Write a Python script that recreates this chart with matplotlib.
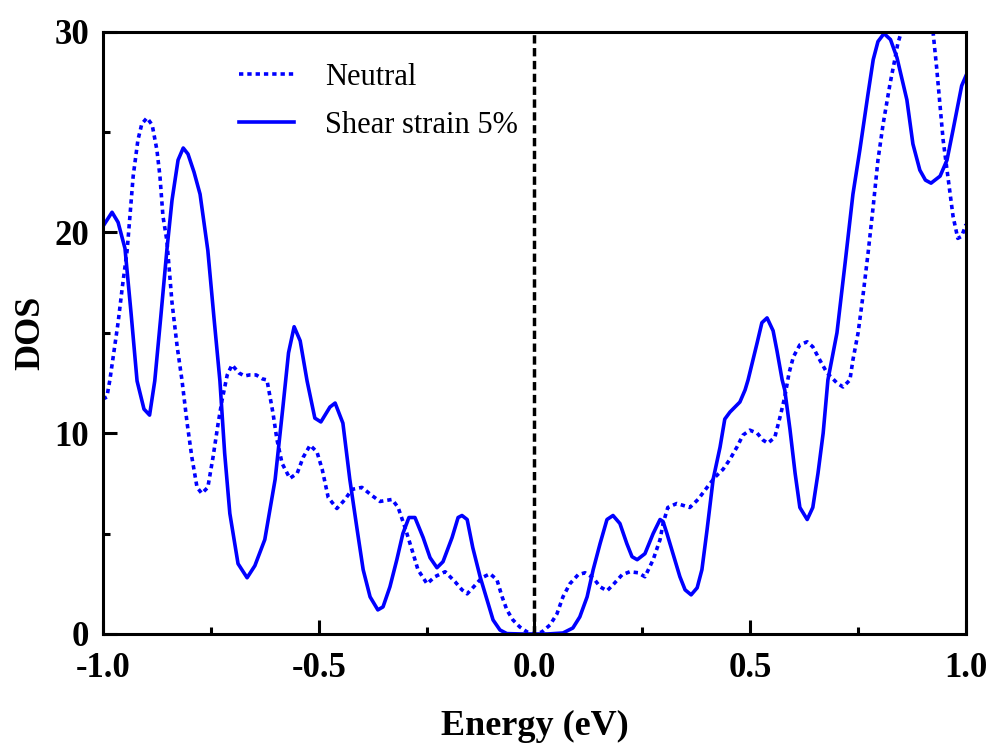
import numpy as np
import matplotlib
matplotlib.use('Agg')
import matplotlib.pyplot as plt

plt.rcParams['font.family'] = 'Liberation Serif'
plt.rcParams['axes.linewidth'] = 2.2

# Shear strain 5% (solid)
E_strain = [-1.0, -0.979, -0.965, -0.949, -0.935, -0.921, -0.905, -0.892, -0.880, -0.866,
            -0.852, -0.840, -0.826, -0.814, -0.803, -0.789, -0.775, -0.757, -0.743, -0.729,
            -0.718, -0.706, -0.687, -0.666, -0.648, -0.625, -0.601, -0.583, -0.570, -0.557,
            -0.543, -0.527, -0.509, -0.495, -0.474, -0.462, -0.444, -0.428, -0.411, -0.397,
            -0.381, -0.363, -0.351, -0.335, -0.319, -0.305, -0.291, -0.277, -0.258, -0.242,
            -0.226, -0.212, -0.191, -0.177, -0.168, -0.156, -0.143, -0.126, -0.110, -0.096,
            -0.080, -0.064, -0.030, 0.0, 0.030, 0.066, 0.089, 0.105, 0.122, 0.136,
            0.152, 0.168, 0.182, 0.198, 0.214, 0.226, 0.238, 0.256, 0.275, 0.291,
            0.298, 0.307, 0.321, 0.337, 0.349, 0.363, 0.377, 0.388, 0.400, 0.414,
            0.430, 0.441, 0.453, 0.476, 0.488, 0.495, 0.516, 0.527, 0.539, 0.553,
            0.562, 0.574, 0.580, 0.592, 0.604, 0.615, 0.632, 0.645, 0.657, 0.669,
            0.680, 0.701, 0.720, 0.738, 0.754, 0.773, 0.785, 0.796, 0.810, 0.825,
            0.840, 0.863, 0.877, 0.893, 0.906, 0.919, 0.940, 0.956, 0.970, 0.990, 1.0]
DOS_strain = [20.3, 21.0, 20.5, 19.2, 16.0, 12.6, 11.2, 10.9, 12.6, 15.8,
              19.1, 21.6, 23.6, 24.2, 23.9, 23.0, 21.9, 19.1, 15.8, 12.6,
              9.0, 6.0, 3.5, 2.8, 3.4, 4.7, 7.7, 11.3, 14.0, 15.3,
              14.6, 12.6, 10.75, 10.56, 11.3, 11.5, 10.5, 7.7, 5.2, 3.2,
              1.85, 1.2, 1.35, 2.35, 3.7, 5.0, 5.8, 5.8, 4.8, 3.8,
              3.3, 3.6, 4.8, 5.8, 5.9, 5.7, 4.3, 2.85, 1.7, 0.7,
              0.2, 0.02, 0.0, 0.0, 0.0, 0.05, 0.3, 0.85, 1.85, 3.2,
              4.5, 5.7, 5.9, 5.5, 4.5, 3.85, 3.7, 4.0, 5.0, 5.7,
              5.6, 5.0, 4.0, 2.85, 2.2, 1.95, 2.3, 3.2, 5.2, 7.7,
              9.3, 10.7, 11.05, 11.55, 12.15, 12.65, 14.5, 15.5, 15.74, 15.1,
              14.1, 12.65, 12.15, 10.2, 8.0, 6.3, 5.7, 6.3, 8.0, 10.0,
              12.65, 15.0, 18.5, 21.9, 24.1, 26.9, 28.6, 29.5, 29.9, 29.6,
              28.7, 26.6, 24.4, 23.1, 22.6, 22.45, 22.8, 23.6, 25.1, 27.3, 27.8]

# Neutral (dotted)
E_neutral = [-1.0, -0.991, -0.984, -0.975, -0.965, -0.955, -0.944, -0.930, -0.919, -0.910,
             -0.898, -0.886, -0.875, -0.868, -0.861, -0.852, -0.840, -0.828, -0.817, -0.805,
             -0.794, -0.782, -0.771, -0.757, -0.745, -0.733, -0.724, -0.712, -0.701, -0.685,
             -0.672, -0.660, -0.645, -0.630, -0.620, -0.606, -0.597, -0.585, -0.567, -0.550,
             -0.536, -0.520, -0.504, -0.492, -0.478, -0.458, -0.439, -0.423, -0.400, -0.377,
             -0.358, -0.330, -0.316, -0.300, -0.284, -0.270, -0.249, -0.231, -0.207, -0.184,
             -0.168, -0.156, -0.143, -0.122, -0.103, -0.087, -0.075, -0.064, -0.050, -0.034,
             -0.017, 0.0, 0.017, 0.036, 0.052, 0.066, 0.082, 0.101, 0.117, 0.136,
             0.152, 0.168, 0.182, 0.203, 0.221, 0.240, 0.256, 0.275, 0.291, 0.298,
             0.309, 0.330, 0.360, 0.379, 0.400, 0.418, 0.437, 0.453, 0.469, 0.483,
             0.499, 0.516, 0.530, 0.541, 0.557, 0.569, 0.580, 0.590, 0.600, 0.615,
             0.632, 0.645, 0.661, 0.678, 0.701, 0.715, 0.731, 0.738, 0.750, 0.761,
             0.773, 0.785, 0.796, 0.808, 0.824, 0.835, 0.842, 0.849, 0.865, 0.887,
             0.905, 0.924, 0.932, 0.940, 0.947, 0.956, 0.963, 0.970, 0.981, 0.990, 1.0]
DOS_neutral = [11.7, 11.8, 12.65, 14.0, 15.5, 17.3, 19.1, 22.8, 24.6, 25.4,
               25.7, 25.35, 24.1, 22.8, 20.8, 19.6, 16.5, 14.3, 12.65, 10.5,
               8.8, 7.3, 7.0, 7.3, 8.8, 10.5, 11.65, 12.9, 13.4, 13.0,
               12.85, 12.9, 12.9, 12.7, 12.65, 11.0, 9.7, 8.5, 7.75, 8.0,
               8.8, 9.4, 9.06, 8.2, 6.8, 6.25, 6.7, 7.2, 7.3, 6.9,
               6.6, 6.7, 6.3, 5.3, 4.2, 3.2, 2.5, 2.85, 3.1, 2.6,
               2.2, 2.0, 2.3, 2.8, 3.0, 2.7, 1.85, 1.2, 0.7, 0.35,
               0.1, 0.0, 0.1, 0.45, 1.0, 1.85, 2.5, 2.95, 3.05, 2.8,
               2.35, 2.15, 2.45, 2.95, 3.1, 3.05, 2.85, 3.7, 4.7, 5.5,
               6.3, 6.5, 6.3, 6.7, 7.3, 7.8, 8.2, 8.7, 9.3, 9.9,
               10.15, 10.0, 9.65, 9.5, 9.8, 10.8, 11.8, 13.0, 13.8, 14.4,
               14.55, 14.3, 13.65, 13.0, 12.5, 12.3, 12.65, 13.65, 15.0, 16.8,
               18.95, 21.3, 23.6, 25.4, 27.4, 28.6, 29.4, 29.9, 31.8, 32.6,
               31.8, 29.9, 28.2, 26.3, 24.6, 23.1, 21.9, 20.8, 19.7, 19.8, 20.4]

x_ticks = [-1.0, -0.5, 0.0, 0.5, 1.0]
y_ticks = [0, 10, 20, 30]

fig = plt.figure(figsize=(9.93, 7.45), dpi=100)
ax = fig.add_axes([0.1037, 0.149, 0.8691, 0.8087])

ax.plot(E_neutral, DOS_neutral, color='#0000FF', lw=2.6, linestyle=(0, (1.2, 1.1)), label='Neutral')
ax.plot(E_strain, DOS_strain, color='#0000FF', lw=2.6, label='Shear strain 5%')
ax.axvline(0, color='black', lw=2.5, linestyle=(0, (2.4, 1.3)))

ax.set_xlim(-1, 1)
ax.set_ylim(0, 30)
ax.set_xticks(x_ticks)
ax.set_xticklabels(['%.1f' % v for v in x_ticks])
ax.set_yticks(y_ticks)
ax.set_xticks([-0.75, -0.25, 0.25, 0.75], minor=True)
ax.set_yticks([5, 15, 25], minor=True)
ax.tick_params(which='major', direction='in', length=10, width=2.2, labelsize=25,
               top=False, right=False)
ax.tick_params(axis='x', which='major', pad=13)
ax.tick_params(axis='y', which='major', pad=10)
ax.tick_params(which='minor', direction='in', length=5, width=2.2, top=False, right=False)
for lab in ax.get_xticklabels() + ax.get_yticklabels():
    lab.set_fontweight('bold')

ax.set_xlabel('Energy (eV)', fontsize=26, fontweight='bold', labelpad=18)
ax.set_ylabel('DOS', fontsize=26, fontweight='bold', labelpad=5)

ax.legend(loc='upper left', bbox_to_anchor=(0.158, 0.948), frameon=False, fontsize=22,
          handlelength=1.8, handletextpad=1.0, labelspacing=0.62, borderaxespad=0, borderpad=0)

plt.savefig('out.png', dpi=100)
